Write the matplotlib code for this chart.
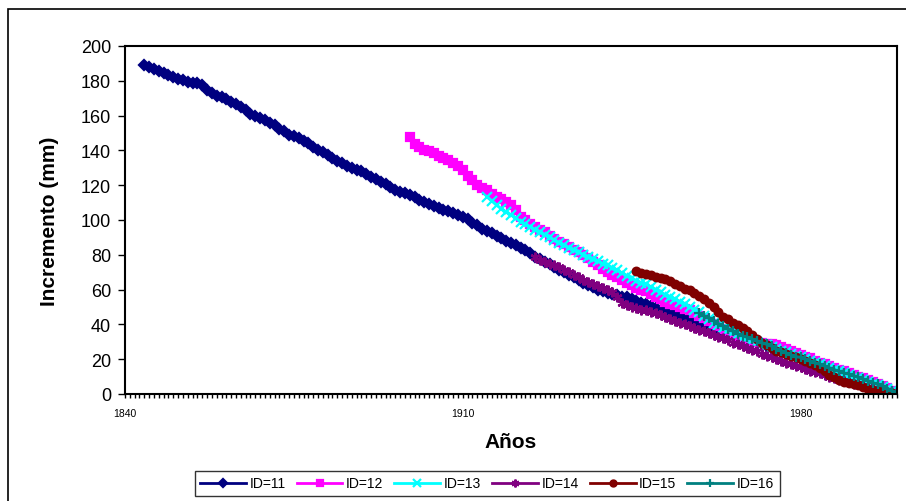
import matplotlib
matplotlib.use("Agg")
from matplotlib import pyplot as plt
from matplotlib.patches import Rectangle
from matplotlib.ticker import MultipleLocator

plt.rcParams['font.family'] = ['Liberation Sans', 'DejaVu Sans']

# cumulative increment per year (mm)
years_11 = list(range(1844, 2001))
id_11 = [189.3, 188, 186.5, 185.5, 184.5, 183.5, 182, 181, 180.5, 179.5,
         179, 178.5, 177.5, 175, 173, 171.5, 170.5, 169.5, 168, 166.5,
         165, 163, 161, 160, 158.5, 157.5, 155.5, 154.5, 152.5, 151,
         149, 148, 147, 145.5, 144, 142, 140.5, 139, 137.5, 135.5,
         134, 132.5, 131, 130, 129, 128, 126.5, 125, 123.5, 122,
         120.5, 119, 117.5, 116, 115.5, 114.5, 113, 111.5, 110.5, 109,
         108, 107, 106, 105, 104, 103, 102, 100.5, 98.5, 97,
         95, 93.5, 92.5, 91, 89.5, 88, 87, 85.5, 84, 82.5,
         81, 79, 77.5, 76, 74.5, 73, 71.5, 70, 68.5, 67,
         65.5, 64, 62.5, 61.5, 60, 59, 58, 57.5, 57, 56,
         55.5, 54.5, 53.5, 52.5, 51.5, 50.5, 49.5, 48.5, 47.5, 46.5,
         45.5, 45, 44, 43, 42, 41, 40, 39, 38, 37,
         36, 35, 34.5, 33.5, 32.5, 31.5, 30.5, 29.5, 28.5, 27.5,
         26.5, 25.5, 24.5, 23.5, 22.5, 21.5, 20.5, 19.5, 18.5, 17.5,
         16, 15, 14, 13, 12, 11, 10, 9, 8, 7,
         6, 5, 4, 3, 2, 1, 0]

years_12 = list(range(1899, 2001))
id_12 = [147.5, 143.5, 142, 140.5, 139.5, 138.5, 137, 135.5, 134.5, 133,
         131, 128.5, 125.5, 123, 120, 118.5, 117, 115, 113.5, 112,
         110.5, 108.5, 105.5, 102, 100, 97.5, 96, 94.5, 93, 91,
         89, 87.5, 86, 84.5, 83, 81.5, 80, 78, 76, 74,
         72, 70, 68.5, 67, 65.5, 64, 62.5, 61, 60, 59,
         57.5, 56, 54.5, 53, 52, 51, 50, 49, 48, 46.5,
         45, 43.5, 42, 40.5, 39, 37.5, 36, 34.5, 33, 32,
         31, 30.5, 30, 29.5, 29, 28.5, 28, 27, 26, 25,
         23.5, 22.5, 21.5, 20.5, 19, 18, 17, 16, 15, 14,
         13, 12, 11, 10, 9, 8, 7, 6, 4.5, 3.5,
         2, 1]

years_13 = list(range(1915, 2001))
id_13 = [113.5, 111, 108.5, 106.5, 104.5, 103, 101, 99, 97.5, 96,
         94.5, 93, 91.5, 90, 88.5, 87, 85.5, 84, 82.5, 81.5,
         80, 79, 77.5, 76.5, 75, 74, 72.5, 71, 69.5, 68,
         66.5, 65, 64, 63, 61.5, 60, 58.5, 57, 55.5, 54.5,
         53, 52, 50, 48.5, 47, 45, 43, 41, 39.5, 38,
         37, 35.5, 34.5, 33, 32, 31, 30, 29, 28, 27,
         26, 25, 24, 23, 22, 21, 20, 19, 18, 17,
         16, 15, 14, 13, 12, 11, 10, 9, 8, 7,
         6, 5, 4, 3, 1.5, 0.5]

years_14 = list(range(1925, 2001))
id_14 = [78.5, 77, 76, 75, 74, 73, 71.5, 70, 68.5, 67,
         65.5, 64.5, 63, 62, 61, 60, 58.5, 55.5, 52.5, 51,
         50, 49.5, 48.5, 48, 47, 46.5, 45.5, 44.5, 43, 42,
         41, 40, 39, 38, 37, 36, 35, 34, 33, 32,
         31, 29.5, 28.5, 27.5, 26.5, 25.5, 24.5, 23, 22, 21,
         20, 19, 18, 17, 16, 15.5, 14.5, 13.5, 12.5, 12,
         11, 10, 9, 8, 7.5, 7, 6, 5.5, 4.5, 4,
         3, 2.5, 1.5, 1, 0.5, 0]

years_15 = list(range(1946, 2001))
id_15 = [70.5, 69.5, 69, 68.5, 67.5, 66.5, 66, 65, 63.5, 62,
         60.5, 59.5, 58, 56.5, 54.5, 52.5, 50, 47, 44.5, 43,
         41, 39.5, 38, 36, 34, 31.5, 29.5, 28, 26.5, 25,
         24, 23, 22, 21, 20, 19, 18, 16.5, 15, 13,
         11, 9.5, 8, 7, 6.5, 6, 5, 4, 3, 2.5,
         2, 1.5, 1, 0.5, 0]

years_16 = list(range(1959, 2001))
id_16 = [46.5, 45, 43.5, 42, 40.5, 39, 37.5, 36, 34.5, 33.5,
         32.5, 31.5, 30.5, 29.5, 28.5, 27.5, 26, 25, 23.5, 22.5,
         21.5, 21, 20, 19, 18, 17, 16, 15, 14, 13,
         12, 11.5, 10.5, 9.5, 8.5, 7.5, 6.5, 5.5, 4.5, 3,
         2, 0.5]

labels = ["ID=11", "ID=12", "ID=13", "ID=14", "ID=15", "ID=16"]
colors = ["#000080", "#FF00FF", "#00FFFF", "#800080", "#800000", "#008080"]
markers = ["D", "s", "x", (6, 2, 0), "o", "+"]
msizes = [5.5, 5.5, 6.5, 7, 5.5, 7]

fig = plt.figure(figsize=(9.06, 5.02), dpi=100)
# outer chart border
fig.patches.append(Rectangle((8 / 906, -0.05), 1.0, 1 - 10 / 502 + 0.05,
                             transform=fig.transFigure, fill=False,
                             edgecolor="black", linewidth=1.2))

ax = fig.add_axes([125 / 906, 107 / 502, 772 / 906, 348 / 502])

series = [(years_11, id_11), (years_12, id_12), (years_13, id_13),
          (years_14, id_14), (years_15, id_15), (years_16, id_16)]
for (xs, ys), lab, c, m, ms in zip(series, labels, colors, markers, msizes):
    ax.plot(xs, ys, color=c, lw=2, marker=m, markersize=ms,
            markerfacecolor=c, markeredgecolor=c, markeredgewidth=1.6,
            label=lab)

ax.set_xlim(1840, 2000)
ax.set_ylim(0, 200)
ax.set_yticks(range(0, 201, 20))
ax.set_xticks([1840, 1910, 1980])
ax.xaxis.set_minor_locator(MultipleLocator(1))
ax.tick_params(axis="y", labelsize=13, length=5, width=1, pad=5)
ax.tick_params(axis="x", which="both", labelsize=7.5, length=3, width=1,
               pad=7)
for s in ax.spines.values():
    s.set_linewidth(1.5)

ax.set_ylabel("Incremento (mm)", fontsize=15, fontweight="bold", labelpad=16)
ax.set_xlabel("Años", fontsize=15, fontweight="bold", labelpad=10)

leg = fig.legend(loc="center", bbox_to_anchor=(487 / 906, 1 - 484.5 / 502),
                 ncol=6, fontsize=10, frameon=True, fancybox=False,
                 edgecolor="black", handlelength=3.3, handletextpad=0.25,
                 columnspacing=0.8, borderpad=0.4, markerscale=0.8)
leg.get_frame().set_linewidth(1)

fig.savefig("out.png", dpi=100)
